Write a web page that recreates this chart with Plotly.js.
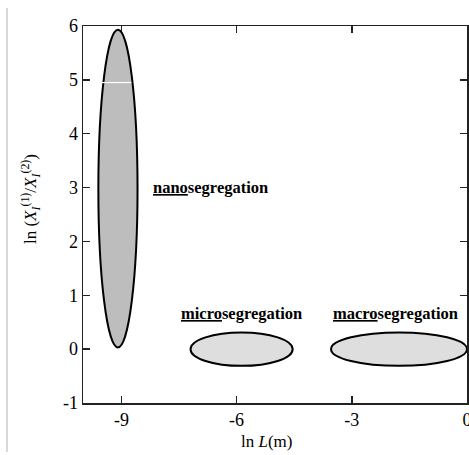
<!DOCTYPE html>
<html>
<head>
<meta charset="utf-8">
<script src="https://cdn.plot.ly/plotly-3.0.1.min.js"></script>
<style>html,body{margin:0;padding:0;background:#fff;}#chart{width:469px;height:455px;}</style>
</head>
<body>
<div id="chart"></div>
<script>
// Regions (ellipses): center ln L, center ln ratio, half-width, half-height
const regionNames = ["nano", "micro", "macro"];
const centerX = [-9.09, -5.87, -1.77];
const centerY = [2.98, 0.0, 0.0];
const halfW = [0.51, 1.33, 1.77];
const halfH = [2.95, 0.31, 0.31];
const fills = ["#bdbdbd", "#dedede", "#dedede"];

// Labels
const labelText = ["<u>nano</u>segregation", "<u>micro</u>segregation", "<u>macro</u>segregation"];
const labelX = [-8.24, -7.49, -3.53];
const labelY = [3.0, 0.67, 0.67];

const xTicks = [-9, -6, -3, 0];
const yTicks = [-1, 0, 1, 2, 3, 4, 5, 6];

const xTitle = "ln <i>L</i>(m)";
const yTitle = "ln (<i>X</i><sub><i>I</i></sub><sup>(1)</sup>/<i>X</i><sub><i>I</i></sub><sup>(2)</sup>)";

const serif = "Liberation Serif";

const shapes = regionNames.map((n, i) => ({
  type: "circle", xref: "x", yref: "y",
  x0: centerX[i] - halfW[i], x1: centerX[i] + halfW[i],
  y0: centerY[i] - halfH[i], y1: centerY[i] + halfH[i],
  fillcolor: fills[i], line: {color: "#000", width: 2}, layer: "above"
}));
// white scan artifact across the nano region
shapes.push({type: "line", xref: "x", yref: "y", x0: -9.55, x1: -8.74, y0: 4.95, y1: 4.95,
  line: {color: "#ffffff", width: 1.2}, layer: "above"});
// faint page border on the left
shapes.push({type: "line", xref: "paper", yref: "paper", x0: -0.198, x1: -0.198, y0: 1.048, y1: -0.13,
  line: {color: "#cccccc", width: 1.5}});

const annotations = labelText.map((t, i) => ({
  x: labelX[i], y: labelY[i], xref: "x", yref: "y", text: t, showarrow: false,
  xanchor: "left", yanchor: "middle",
  font: {family: serif, size: 16.5, color: "#000", weight: "bold"}
}));
// axis titles placed as annotations (offset as in the reference)
annotations.push({xref: "paper", yref: "paper", x: 0.479, y: -0.103, text: xTitle, showarrow: false,
  xanchor: "center", yanchor: "middle", font: {family: serif, size: 17, color: "#000"}});
annotations.push({xref: "paper", yref: "paper", x: -0.138, y: 0.541, text: yTitle, showarrow: false,
  textangle: -90, xanchor: "center", yanchor: "middle", font: {family: serif, size: 17, color: "#000"}});

const data = [{x: [-5], y: [2], type: "scatter", mode: "markers", marker: {opacity: 0},
  showlegend: false, hoverinfo: "skip"}];

function makeAxis(range, ticks) {
  return {
    range: range, autorange: false, tickmode: "array", tickvals: ticks, ticktext: ticks.map(String),
    showgrid: false, zeroline: false, showline: true, linecolor: "#222", linewidth: 1.5,
    mirror: "ticks", ticks: "inside", ticklen: 7, tickwidth: 1.5, tickcolor: "#222",
    ticklabeloverflow: "allow",
    tickfont: {family: serif, size: 18, color: "#000"}
  };
}

const layout = {
  width: 469, height: 455,
  margin: {l: 83, r: 2, t: 26, b: 52},
  paper_bgcolor: "#fff", plot_bgcolor: "#fff",
  showlegend: false,
  xaxis: makeAxis([-10, 0], xTicks),
  yaxis: makeAxis([-1, 6], yTicks),
  shapes: shapes,
  annotations: annotations
};

Plotly.newPlot("chart", data, layout, {displayModeBar: false, staticPlot: true});
</script>
</body>
</html>
